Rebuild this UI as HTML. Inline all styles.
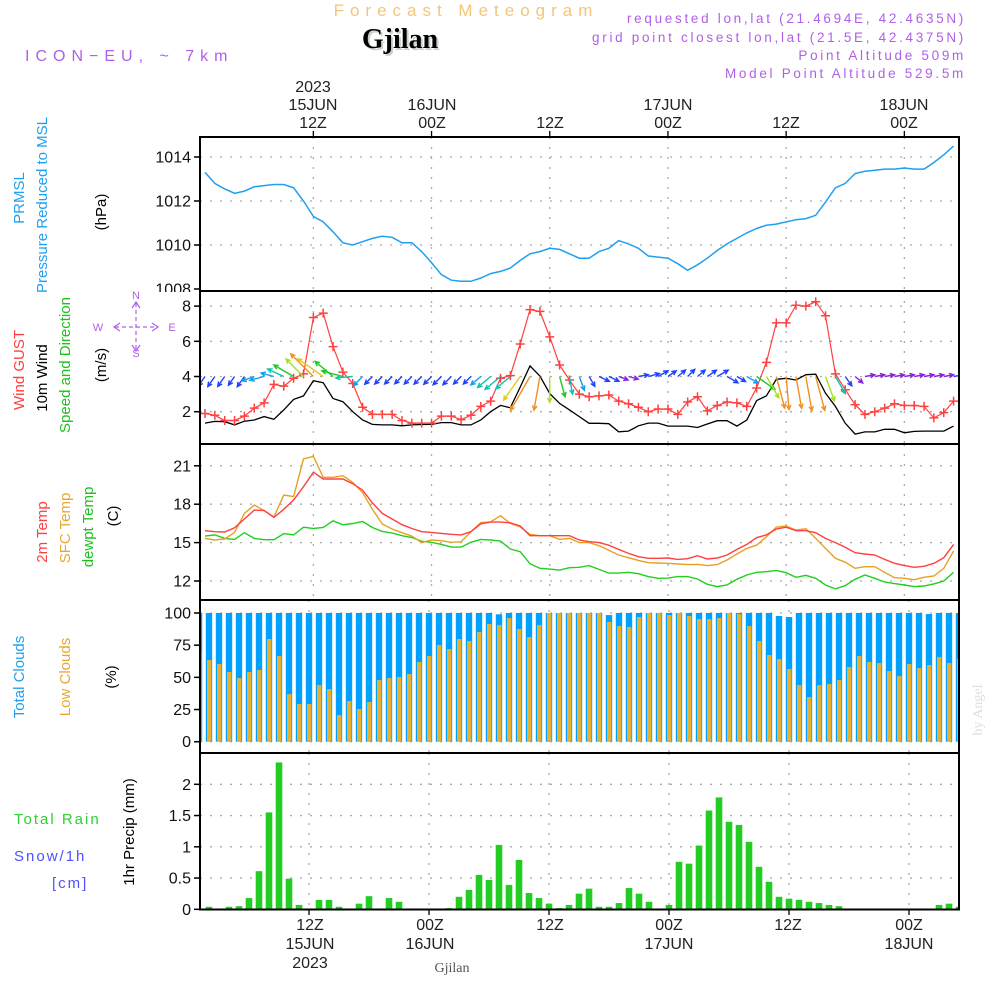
<!DOCTYPE html>
<html><head><meta charset="utf-8"><style>
html,body{margin:0;padding:0;background:#fff;}
svg{display:block;font-family:"Liberation Sans",sans-serif;}
</style></head><body>
<svg id="chart" width="1000" height="1000" viewBox="0 0 1000 1000" xmlns="http://www.w3.org/2000/svg">
<rect x="0" y="0" width="1000" height="1000" fill="#fff"/>
<text x="466" y="16" text-anchor="middle" font-size="17" fill="#f3c67a" letter-spacing="6">Forecast Meteogram</text>
<text x="402" y="50" text-anchor="middle" font-size="28" font-weight="bold" font-family="Liberation Serif,serif" fill="#c8d4c8">Gjilan</text>
<text x="400" y="48" text-anchor="middle" font-size="28" font-weight="bold" font-family="Liberation Serif,serif" fill="#000">Gjilan</text>
<text x="25" y="61" font-size="16" fill="#b060e8" letter-spacing="6">ICON−EU, ~ 7km</text>
<g font-size="13.5" fill="#b060e8" text-anchor="end" letter-spacing="2.7">
<text x="966" y="23">requested lon,lat (21.4694E, 42.4635N)</text>
<text x="966" y="42">grid point closest lon,lat (21.5E, 42.4375N)</text>
<text x="966" y="60">Point Altitude 509m</text>
<text x="966" y="78">Model Point Altitude 529.5m</text>
</g>
<g font-size="16" fill="#222" text-anchor="middle">
<text x="313" y="92">2023</text><text x="313" y="110">15JUN</text><text x="313" y="128">12Z</text>
<text x="432" y="110">16JUN</text><text x="432" y="128">00Z</text>
<text x="550" y="128">12Z</text>
<text x="668" y="110">17JUN</text><text x="668" y="128">00Z</text>
<text x="786" y="128">12Z</text>
<text x="904" y="110">18JUN</text><text x="904" y="128">00Z</text>
</g>
<g font-size="16" fill="#222" text-anchor="middle">
<text x="310" y="930">12Z</text><text x="310" y="949">15JUN</text><text x="310" y="968">2023</text>
<text x="430" y="930">00Z</text><text x="430" y="949">16JUN</text>
<text x="550" y="930">12Z</text>
<text x="669" y="930">00Z</text><text x="669" y="949">17JUN</text>
<text x="788" y="930">12Z</text>
<text x="909" y="930">00Z</text><text x="909" y="949">18JUN</text>
</g>
<text x="452" y="972" text-anchor="middle" font-size="14" font-family="Liberation Serif,serif" fill="#555">Gjilan</text>
<text transform="translate(982,710) rotate(-90)" text-anchor="middle" font-size="14" font-family="Liberation Serif,serif" fill="#ddd">by Angel</text>
<g font-size="15">
<text transform="translate(24,198) rotate(-90)" text-anchor="middle" fill="#20a0f0">PRMSL</text>
<text transform="translate(47,205) rotate(-90)" text-anchor="middle" fill="#20a0f0">Pressure Reduced to MSL</text>
<text transform="translate(106,212) rotate(-90)" text-anchor="middle" fill="#000">(hPa)</text>
<text transform="translate(24,370) rotate(-90)" text-anchor="middle" fill="#ff4040">Wind GUST</text>
<text transform="translate(47,378) rotate(-90)" text-anchor="middle" fill="#000">10m Wind</text>
<text transform="translate(70,365) rotate(-90)" text-anchor="middle" fill="#20c020">Speed and Direction</text>
<text transform="translate(106,365) rotate(-90)" text-anchor="middle" fill="#000">(m/s)</text>
<text transform="translate(47,532) rotate(-90)" text-anchor="middle" fill="#ff4040">2m Temp</text>
<text transform="translate(70,528) rotate(-90)" text-anchor="middle" fill="#e8a830">SFC Temp</text>
<text transform="translate(93,527) rotate(-90)" text-anchor="middle" fill="#20c020">dewpt Temp</text>
<text transform="translate(118,516) rotate(-90)" text-anchor="middle" fill="#000">(C)</text>
<text transform="translate(24,677) rotate(-90)" text-anchor="middle" fill="#20a0f0">Total Clouds</text>
<text transform="translate(70,677) rotate(-90)" text-anchor="middle" fill="#e8a830">Low Clouds</text>
<text transform="translate(116,677) rotate(-90)" text-anchor="middle" fill="#000">(%)</text>
<text transform="translate(134,832) rotate(-90)" text-anchor="middle" fill="#000">1hr Precip (mm)</text>
<text x="14" y="824" fill="#30d030" letter-spacing="2">Total   Rain</text>
<text x="14" y="861" fill="#5050ff" letter-spacing="2">Snow/1h</text>
<text x="52" y="888" fill="#5050ff" letter-spacing="2">[cm]</text>
</g>
<g id="plot"></g>
<g>
<g fill="#b060e8" font-size="11" text-anchor="middle">
<text x="136" y="299">N</text><text x="136" y="357">S</text>
<text x="98" y="331">W</text><text x="172" y="331">E</text>
</g>
<g stroke="#b060e8" stroke-width="1.2" fill="none">
<path d="M115,327H157" stroke-dasharray="4 3"/>
<path d="M136,303V350" stroke-dasharray="4 3"/>
<path d="M120,323L114,327L120,331M152,323L158,327L152,331M132,308L136,302L140,308M132,345L136,351L140,345"/>
</g>
</g>
</svg>
<script>
// ---- data (hourly, 77 points) ----
const pressure=[1013.3,1012.8,1012.55,1012.35,1012.45,1012.65,1012.7,1012.75,1012.75,1012.6,1012.0,1011.3,1011.05,1010.6,1010.1,1010.0,1010.15,1010.3,1010.4,1010.35,1010.1,1010.1,1009.7,1009.2,1008.65,1008.4,1008.35,1008.35,1008.5,1008.7,1008.8,1008.95,1009.3,1009.6,1009.7,1009.85,1009.8,1009.6,1009.4,1009.4,1009.7,1009.85,1010.2,1010.05,1009.85,1009.5,1009.45,1009.4,1009.15,1008.85,1009.1,1009.4,1009.75,1010.05,1010.3,1010.55,1010.75,1010.9,1010.95,1011.05,1011.15,1011.2,1011.35,1011.95,1012.6,1012.8,1013.25,1013.35,1013.4,1013.45,1013.45,1013.5,1013.45,1013.45,1013.75,1014.1,1014.5];
const gust=[1.9,1.8,1.5,1.5,1.75,2.2,2.5,3.55,3.45,3.9,4.15,7.35,7.6,5.7,4.25,3.6,2.25,1.85,1.85,1.85,1.5,1.35,1.35,1.35,1.75,1.75,1.55,1.8,2.3,2.6,3.9,4.05,5.85,7.8,7.7,6.25,4.65,3.8,3.0,2.85,2.9,2.95,2.6,2.45,2.25,2.0,2.15,2.15,1.85,2.55,2.85,2.05,2.35,2.55,2.5,2.3,3.35,4.8,7.05,7.05,8.05,8.0,8.25,7.45,4.15,3.25,2.4,1.85,2.0,2.2,2.45,2.35,2.35,2.3,1.65,1.95,2.6];
const wind=[1.35,1.45,1.43,1.25,1.46,1.53,1.72,1.57,2.1,2.7,2.9,3.76,3.65,2.75,2.57,2.0,1.53,1.28,1.25,1.25,1.2,1.25,1.27,1.28,1.38,1.38,1.25,1.25,1.53,2.0,2.36,2.22,3.4,4.6,4.02,3.03,2.47,2.1,1.72,1.34,1.34,1.32,0.86,0.9,1.2,1.35,1.35,1.18,1.18,1.18,1.1,1.3,1.49,1.49,1.18,1.53,2.63,2.9,3.84,3.9,3.8,4.1,4.13,3.05,2.3,1.34,0.73,0.85,0.85,1.0,1.0,0.8,0.88,0.9,0.9,0.9,1.18];
const windDir=[235,235,235,235,235,200,195,165,155,150,135,135,145,140,165,185,225,225,225,225,225,225,225,225,225,225,225,225,220,220,220,220,235,240,260,270,285,280,290,300,335,335,340,345,10,15,30,35,40,45,40,35,30,330,330,330,325,300,285,275,280,280,285,290,300,305,320,10,10,10,10,10,10,10,10,10,10];
const temp2m=[15.93,15.85,15.83,16.16,16.84,17.54,17.5,16.97,17.6,18.33,19.37,20.5,19.97,19.97,19.97,19.6,19.1,18.1,17.28,16.84,16.4,16.1,15.85,15.8,15.72,15.65,15.6,15.85,16.47,16.6,16.6,16.55,16.3,15.54,15.54,15.54,15.54,15.54,15.2,15.07,15.0,14.8,14.47,14.16,13.9,13.77,13.77,13.8,13.69,13.74,13.98,13.72,13.8,14.03,14.47,14.86,15.38,15.6,16.06,16.2,15.93,15.93,15.77,15.33,15.0,14.63,14.21,14.11,14.03,13.69,13.38,13.2,13.07,13.15,13.38,13.82,14.86];
const tempSfc=[15.33,15.2,15.28,15.8,17.28,17.94,17.5,17.0,18.72,18.59,21.53,21.74,20.1,20.1,20.23,19.7,18.9,17.6,16.45,16.06,15.77,15.51,15.0,15.2,15.15,15.02,15.07,15.85,16.57,16.62,17.1,16.5,16.23,15.64,15.54,15.54,15.25,15.33,15.0,15.0,14.76,14.4,14.03,13.82,13.61,13.43,13.41,13.38,13.33,13.28,13.3,13.2,13.28,13.64,14.11,14.55,14.8,15.46,16.2,16.3,15.98,16.08,15.33,14.55,13.77,13.46,12.99,13.12,13.12,12.68,12.26,12.21,12.1,12.29,12.39,12.99,14.34];
const dewpt=[15.51,15.6,15.33,15.25,15.77,15.33,15.23,15.23,15.7,15.6,16.2,16.1,16.18,16.7,16.39,16.49,16.65,16.18,15.87,15.75,15.54,15.4,15.1,15.02,14.86,14.65,14.65,15.02,15.25,15.2,15.12,14.5,14.29,13.35,12.99,12.93,12.85,13.04,13.07,13.2,12.91,12.62,12.62,12.68,12.57,12.34,12.21,12.23,12.34,12.34,12.16,11.74,11.56,11.69,12.13,12.47,12.68,12.73,12.83,12.65,12.29,12.44,12.21,11.69,11.38,11.64,12.13,12.47,12.21,11.92,11.8,11.69,11.56,11.61,11.77,12.0,12.68];
// clouds (77 bars)
const totalClouds=[100,100,100,100,100,100,100,100,100,100,100,100,100,100,100,100,100,100,100,100,100,100,100,100,100,100,100,100,100,100,99,100,100,100,100,100,100,100,100,100,100,98.4,100,100,100,100,100,100,100,100,100,100,100,100,100,100,100,100,97.7,96.9,100,100,100,100,100,100,100,100,100,100,100,100,100,99.2,100,100,100];
const lowClouds=[70,63.5,60.4,54.1,49.5,54.1,55.7,79.8,66.6,37,29.3,29.3,44,40.9,20.7,31.6,25.4,30.8,47.9,49.5,50.3,52.6,61.9,66.6,75.1,72,79.8,78.2,85.2,91.5,90.7,96.1,87.6,81.3,90.7,100,100,100,100,100,100,93,89.9,89.1,96.9,100,100,98.4,100,97.7,95.3,95.3,96.1,100,99.2,89.9,78.2,67.4,64.2,56.5,44,34.7,44,44.8,47.9,58,66.6,61.9,61.1,54.9,51,60.4,57.3,59.6,65.8,61.1,64.2];
// precipitation (76 bars)
const precip=[0.04,0,0.04,0.05,0.18,0.61,1.55,2.35,0.49,0.07,0,0.15,0.15,0.04,0,0.09,0.21,0,0.18,0.12,0,0,0,0,0.02,0.2,0.31,0.55,0.47,1.03,0.39,0.79,0.26,0.18,0.09,0.02,0.07,0.25,0.33,0.04,0.04,0.1,0.34,0.25,0.12,0,0.07,0.76,0.73,1.02,1.58,1.79,1.4,1.35,1.08,0.68,0.44,0.2,0.17,0.15,0.12,0.1,0.07,0.05,0,0,0,0,0,0,0,0,0,0.07,0.09,0.04];
const pTicks=[1008,1010,1012,1014];
const wTicks=[2,4,6,8];
const tTicks=[12,15,18,21];
const cTicks=[0,25,50,75,100];
const rTicks=[0,0.5,1,1.5,2];
const rTickLabels=["0","0.5","1","1.5","2"];

// ---- axes ----
const NS='http://www.w3.org/2000/svg';
const plot=document.getElementById('plot');
const X0=200,X1=959;
const xt=i=>205+9.85*i;
const xc=k=>199+10*k;
const xb=k=>209+10*k;
const yP=v=>289-(v-1008)*22;
const yW=v=>411.7-(v-2)*17.6;
const yT=v=>581-(v-12)*12.8;
const yC=v=>741.7-v*1.287;
const yR=v=>909.3-v*62.5;
const panels=[[137,291],[291,444],[444,600],[600,753],[753,909.5]];
const topTicksX=[11,23,35,47,59,71].map(xt);
const botTicksX=[10,22,34,46,58,70].map(xb);

function mk(tag,attrs,parent){const e=document.createElementNS(NS,tag);for(const k in attrs)e.setAttribute(k,attrs[k]);(parent||plot).appendChild(e);return e;}

const defs=mk('defs',{});
panels.forEach((p,n)=>{const c=mk('clipPath',{id:'clip'+n},defs);mk('rect',{x:X0,y:p[0],width:X1-X0,height:p[1]-p[0]},c);});

function grid(n,ticks,yf,labels,xs){
  const g=mk('g',{});
  
  
  ticks.forEach((t,j)=>{
    const y=yf(t);
    if(y>panels[n][0]+2&&y<panels[n][1]-2){
      const l=mk('line',{x1:X0,x2:X1,y1:y,y2:y,stroke:'#aaa','stroke-width':1.3,'stroke-dasharray':'2 8'},g);
      
      
    }
    mk('line',{x1:194,x2:X0,y1:y,y2:y,stroke:'#000','stroke-width':1.5},g);
    const tx=mk('text',{x:191,y:y+5.5,'text-anchor':'end','font-size':16,fill:'#111'},g);
    tx.textContent=labels?labels[j]:String(t);
    
    
  });
  xs.forEach(x=>{
    const l=mk('line',{x1:x,x2:x,y1:panels[n][0],y2:panels[n][1],stroke:'#aaa','stroke-width':1.3,'stroke-dasharray':'2 8'},g);
    
    
  });
}
function line(arr,yf,color,clip,name,w){
  const pts=arr.map((v,i)=>xt(i).toFixed(1)+','+yf(v).toFixed(1)).join(' ');
  const l=mk('polyline',{points:pts,fill:'none',stroke:color,'stroke-width':w||1.4,'clip-path':'url(#clip'+clip+')'});
  
  
}

grid(0,pTicks,yP,null,topTicksX);
line(pressure,yP,'#1ea0f0',0,'pressure-line',1.5);
mk('rect',{x:140,y:292,width:58,height:8,fill:'#fff'});
grid(1,wTicks,yW,null,topTicksX);
line(wind,yW,'#000',1,'wind-speed-line',1.3);
line(gust,yW,'#ff4040',1,'gust-line',1.2);
gust.forEach((v,i)=>{
  const x=xt(i),y=yW(v);
  const m=mk('path',{d:`M${x-4.5},${y}H${x+4.5}M${x},${y-4.5}V${y+4.5}`,stroke:'#ff4040','stroke-width':1.5,'clip-path':'url(#clip1)'});
  
  
});
function arrowColor(s){
  if(s<1.05)return '#8a20e0';
  if(s<1.5)return '#2040ff';
  if(s<2.0)return '#10a0f0';
  if(s<2.4)return '#10c0b0';
  if(s<2.8)return '#20c820';
  if(s<3.2)return '#a8e020';
  if(s<3.7)return '#e8c820';
  return '#f09020';
}
windDir.forEach((d,i)=>{
  const s=wind[i],L=Math.max(10,8.5*s),a=d*Math.PI/180;
  const x0=xt(i),y0=yW(4),x1=x0+L*Math.cos(a),y1=y0-L*Math.sin(a);
  const h=5,b1=a+Math.PI-0.45,b2=a+Math.PI+0.45;
  const ar=mk('path',{d:`M${x0},${y0}L${x1},${y1}M${x1+h*Math.cos(b1)},${y1-h*Math.sin(b1)}L${x1},${y1}L${x1+h*Math.cos(b2)},${y1-h*Math.sin(b2)}`,fill:'none',stroke:arrowColor(s),'stroke-width':1.4,'clip-path':'url(#clip1)'});
  
  
});
grid(2,tTicks,yT,null,topTicksX);
line(dewpt,yT,'#20d020',2,'dewpoint-line');
line(tempSfc,yT,'#e8a020',2,'sfc-temp-line');
line(temp2m,yT,'#ff4040',2,'temp-2m-line');
grid(3,cTicks,yC,null,botTicksX);
totalClouds.forEach((v,k)=>{
  const r=mk('rect',{x:xc(k)-3.2,y:yC(v),width:6.4,height:yC(0)-yC(v),fill:'#00a0ff','clip-path':'url(#clip3)'});
  
  
});
lowClouds.forEach((v,k)=>{
  const r=mk('rect',{x:xc(k)-2,y:yC(v),width:4.4,height:yC(0)-yC(v),fill:'#e8b030','clip-path':'url(#clip3)'});
  
  
});
grid(4,rTicks,yR,rTickLabels,botTicksX);
precip.forEach((v,k)=>{
  if(v<=0)return;
  const r=mk('rect',{x:xb(k)-3.3,y:yR(v),width:6.6,height:yR(0)-yR(v),fill:'#22cc22','clip-path':'url(#clip4)'});
  
  
});
panels.forEach((p,n)=>{
  const f=mk('rect',{x:X0,y:p[0],width:X1-X0,height:p[1]-p[0],fill:'none',stroke:'#000','stroke-width':2});
  
  
});
topTicksX.forEach(x=>{
  const t=mk('line',{x1:x,x2:x,y1:131,y2:137,stroke:'#000','stroke-width':1.3});
  
  
});
botTicksX.forEach(x=>{
  const t=mk('line',{x1:x,x2:x,y1:909,y2:915,stroke:'#000','stroke-width':1.3});
  
  
});
</script>
</body></html>
